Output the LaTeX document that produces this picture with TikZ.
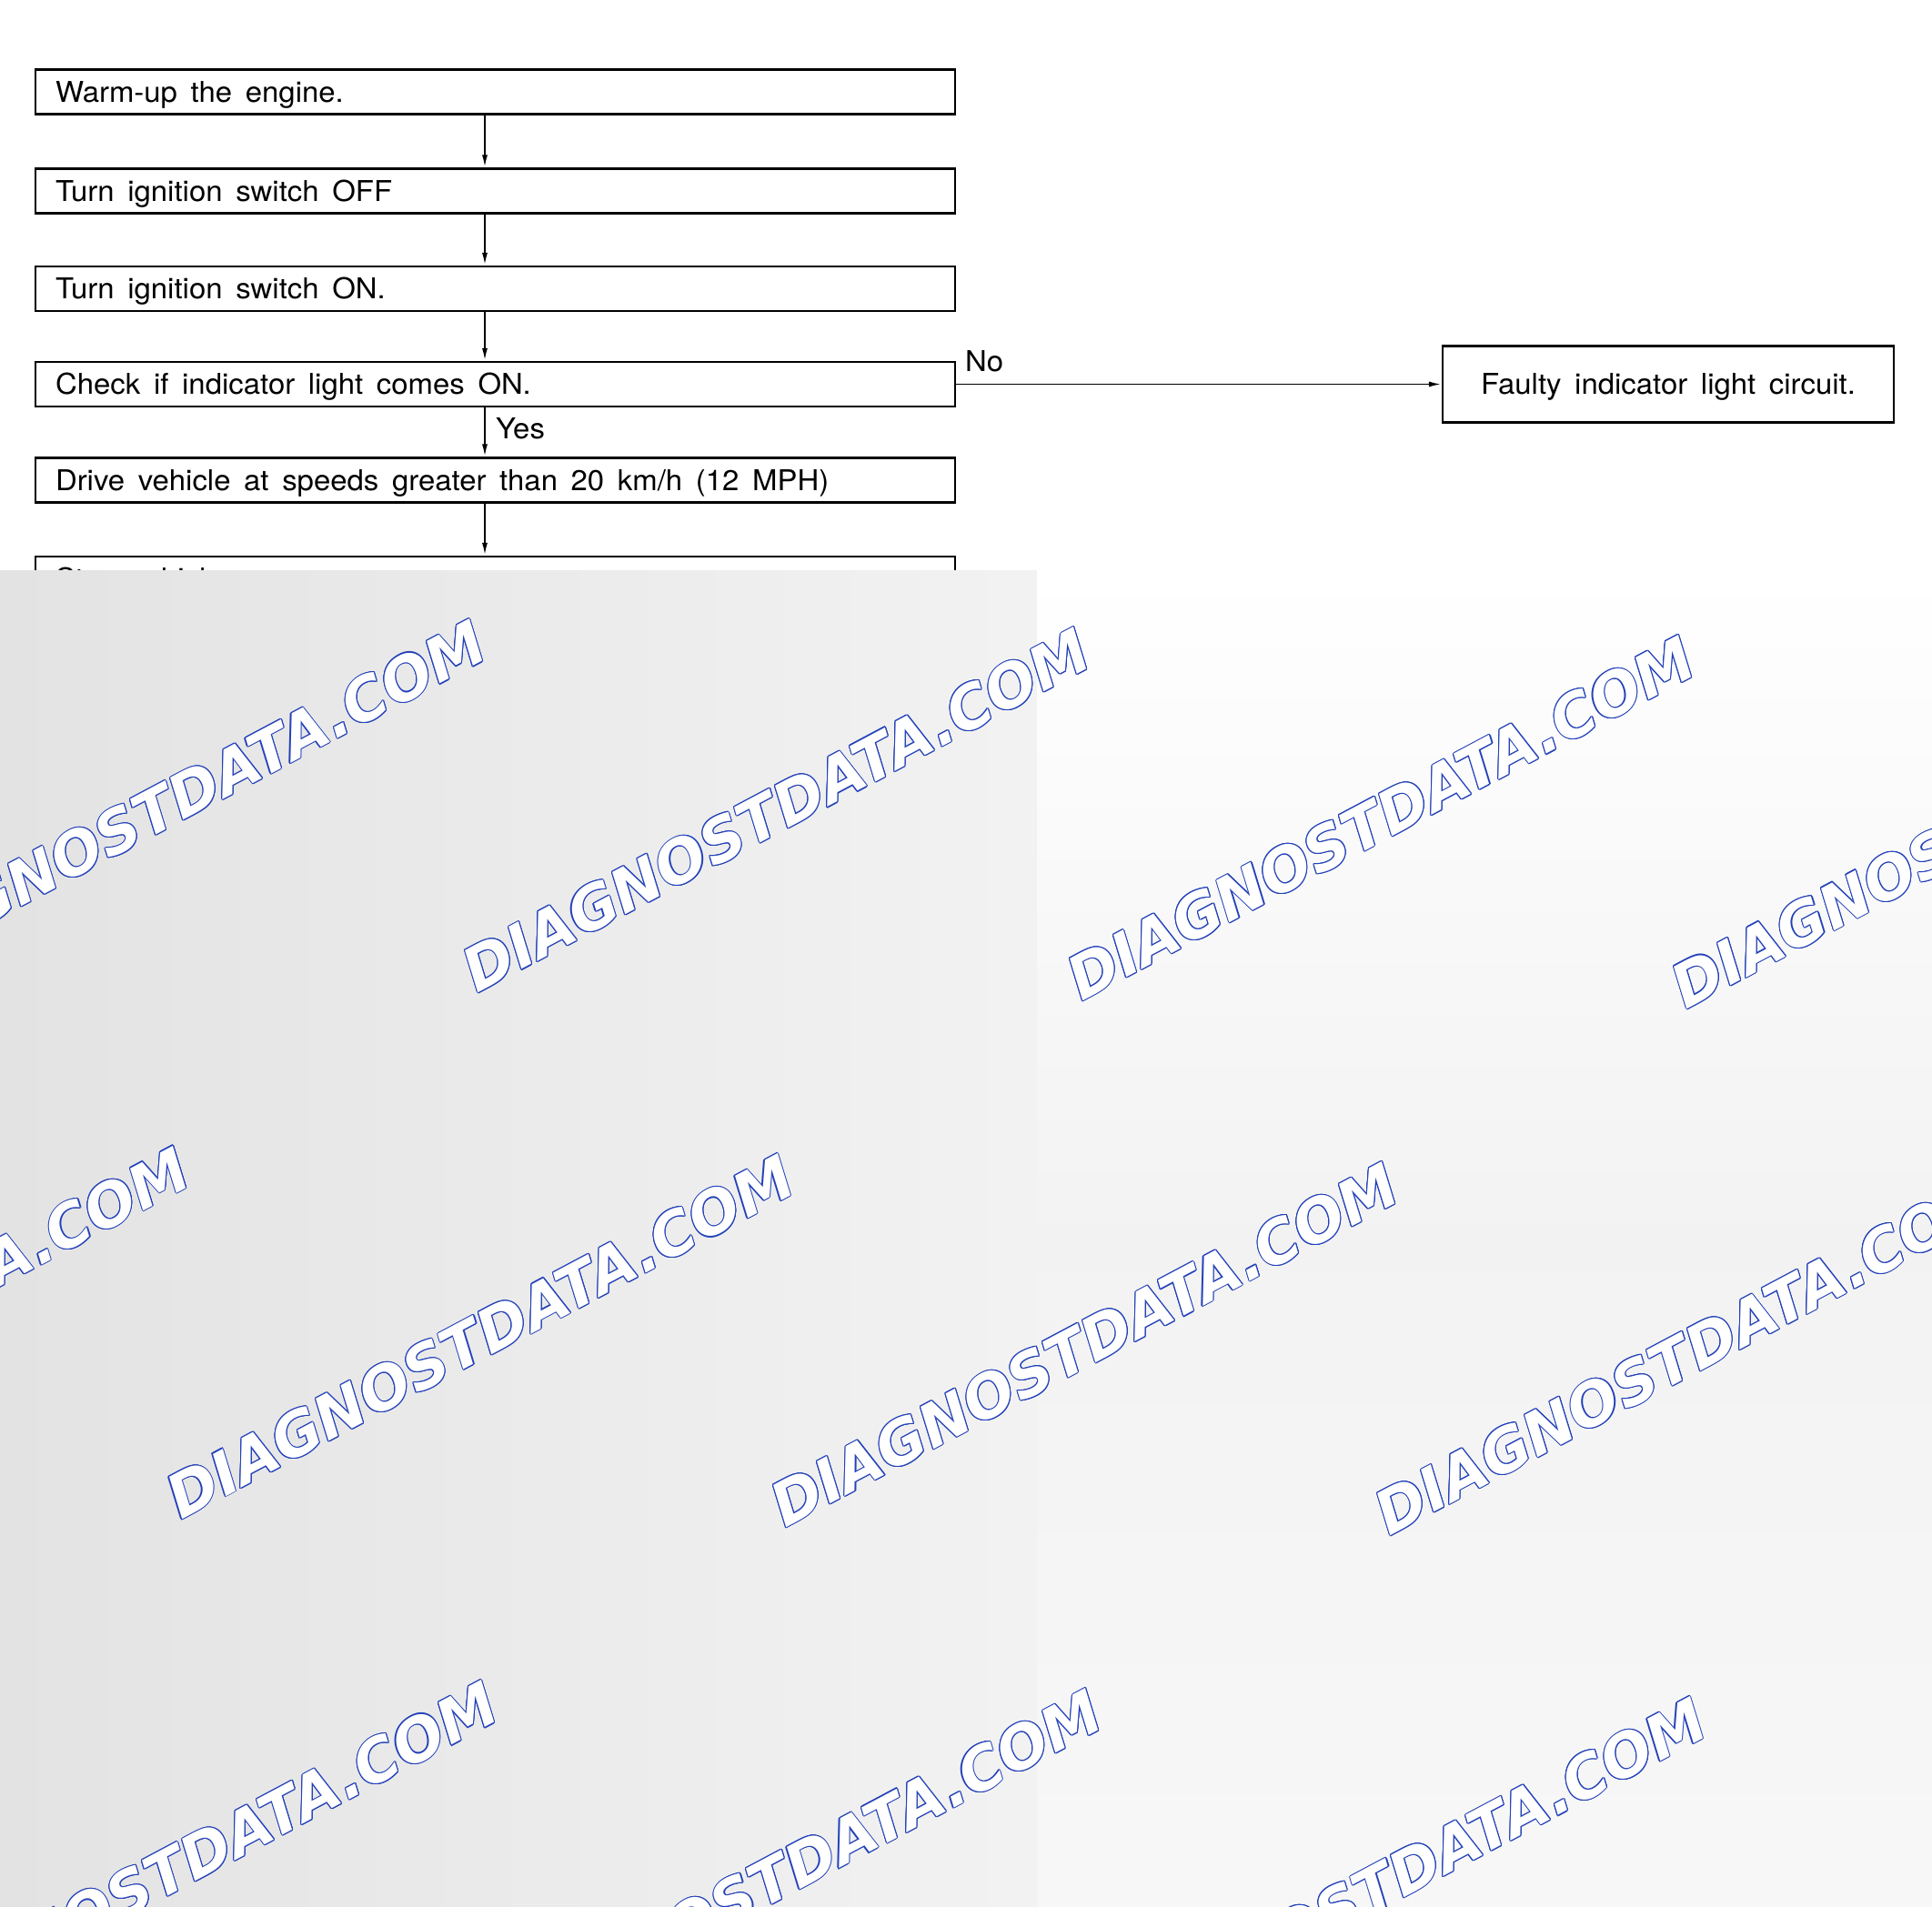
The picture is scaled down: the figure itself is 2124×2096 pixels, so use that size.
\documentclass[tikz,border=0pt]{standalone}
\usepackage{fontspec}
\setmainfont{TeX Gyre Heros}[WordSpace=1.6,FakeStretch=1.045]
\newfontfamily\wmfont{DejaVu Sans}
\usepackage{tikz}
\usetikzlibrary{arrows.meta}
\usetikzlibrary{positioning}
\definecolor{wmblue}{RGB}{35,65,185}
\newcommand{\boxfont}{\fontsize{31.5}{36}\selectfont}
\tikzstyle{block} = [rectangle, draw, line width=2.2pt, 
minimum width=1011pt, minimum height=49pt, text width=967pt, inner xsep=22pt,
align=left, text height=26pt, text depth=3.4pt, font=\boxfont,
execute at begin node={\spaceskip=\fontdimen2\font plus 2pt\relax}]
\tikzstyle{block2} = [rectangle, draw, line width=2.2pt, 
minimum width=496pt, minimum height=84pt, align=center,
text height=26pt, text depth=3.4pt, font=\boxfont]
\tikzstyle{lbl} = [inner sep=0pt, anchor=base west, font=\boxfont]
\tikzstyle{line} = [draw, line width=1.9pt, -{Latex[length=14pt,width=6pt]}]
\tikzstyle{wmark} = [inner sep=0pt, rotate=28, 
font=\wmfont\bfseries\itshape\fontsize{65.5}{70}\selectfont]

\begin{document}
\begin{tikzpicture}[x=1pt, y=1pt]
	\useasboundingbox (0,0) rectangle (2124,-2096);
	\node [block] at (544.5,-101) (warmup) {Warm-up the engine.};
	\node [block] at (544.5,-210) (ignoff) {Turn ignition switch OFF};
	\node [block] at (544.5,-317.5) (ignon) {Turn ignition switch ON.};
	\node [block] at (544.5,-422.5) (check) {Check if indicator light comes ON.};
	\node [block] at (544.5,-528) (drive) {Drive vehicle at speeds greater than 20 km/h (12 MPH)};
	\node [block] at (544.5,-636.5) (stop) {Stop vehicle.};
	\node [block2] at (1834,-422.5) (faulty) {Faulty indicator light circuit.};
	\coordinate (stem) at (533,0);
	\path [line] (warmup.south -| stem) -- (ignoff.north -| stem);
	\path [line] (ignoff.south -| stem) -- (ignon.north -| stem);
	\path [line] (ignon.south -| stem) -- (check.north -| stem);
	\path [line] (check.south -| stem) -- (drive.north -| stem);
	\path [line] (drive.south -| stem) -- (stop.north -| stem);
	\path [line] (check.east) -- (faulty.west);
	\node [lbl] at (1061,-408) (no) {No};
	\node [lbl] at (545,-482) (yes) {Yes};
	% grey sheet with the watermarks
	\shade [left color=black!11, right color=black!5] (0,-627) rectangle (1140,-2096);
	\shade [top color=white, bottom color=black!3, middle color=black!5] (1140,-627) rectangle (2124,-2096);
	\begin{scope}
	\clip (0,-627) rectangle (2124,-2096);
	\foreach \i in {-1,...,2}
	\foreach \j in {0,1,2} {
		\coordinate (wm) at (853.4+664.4*\i-325.8*\j, -890.7-8.8*\i-579.1*\j);
		\foreach \a in {0,30,...,330}
		\node [wmark, text=wmblue, shift={(\a:1.1)}] at (wm) {DIAGNOSTDATA.COM};
		\node [wmark, text=white] at (wm) {DIAGNOSTDATA.COM};
	}
	\end{scope}
\end{tikzpicture}
\end{document}
